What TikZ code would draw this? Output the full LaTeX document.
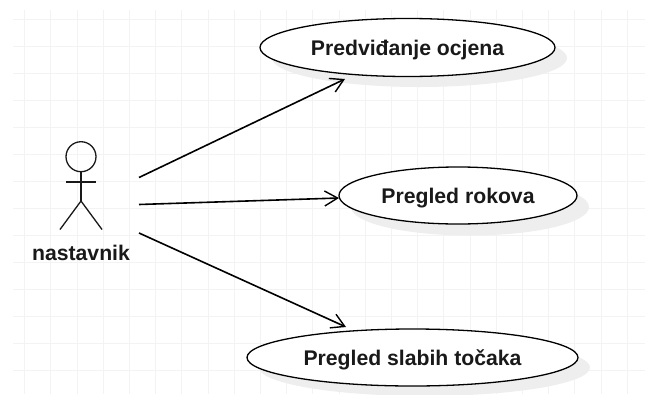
\documentclass[tikz,border=0pt]{standalone}
\usepackage{fontspec}
\setmainfont{Liberation Sans}
\usetikzlibrary{arrows.meta,shapes.geometric}
\definecolor{gridc}{HTML}{F3F3F3}
\definecolor{shadowc}{HTML}{EEEEEE}
\tikzset{
  gridline/.style={gridc,line width=0.8pt},
  labeltext/.style={font=\bfseries\fontsize{21.2}{24}\selectfont,text=black!90},
  usecase/.style={ellipse,draw=black,fill=white,line width=1.3pt,inner sep=0pt,labeltext,text height=18pt,text depth=2pt},
  shade blob/.style={fill=shadowc,draw=none},
  stick/.style={draw=black!90,line width=1.3pt},
  assoc/.style={draw=black,line width=1.6pt,-{Straight Barb[length=13pt,width=15pt,line width=1.4pt]}}
}
\begin{document}
\begin{tikzpicture}[x=1pt,y=-1pt]
\useasboundingbox (0,0) rectangle (645,394);
\fill[white] (0,0) rectangle (645,394);
\foreach \k in {0,...,23} \draw[gridline] ({24.5+26.2*\k},10) -- ({24.5+26.2*\k},394);
\foreach \k in {0,...,13} \draw[gridline] (13,{19+27*\k}) -- (645,{19+27*\k});
\fill[shade blob] (419.5,58) ellipse [x radius=147.5,y radius=29];
\fill[shade blob] (470,207) ellipse [x radius=119,y radius=28.5];
\fill[shade blob] (424.5,367.5) ellipse [x radius=165.5,y radius=28.5];
\node[usecase,minimum width=295pt,minimum height=58pt] (uc1) at (407.5,47.5) {Predviđanje ocjena};
\node[usecase,minimum width=238pt,minimum height=57pt] (uc2) at (458,195.5) {Pregled rokova};
\node[usecase,minimum width=331pt,minimum height=57pt] (uc3) at (412.5,357.5) {Pregled slabih točaka};
\coordinate (h) at (81,156.7);
\draw[stick] (h) circle [radius=15];
\coordinate (neck) at (81,171.7);
\coordinate (hip) at (81,201);
\coordinate (armL) at (66,182);
\coordinate (armR) at (96,182);
\coordinate (legL) at (60,229.5);
\coordinate (legR) at (102,229.5);
\draw[stick] (neck) -- (hip);
\draw[stick] (armL) -- (armR);
\draw[stick] (legL) -- (hip) -- (legR);
\node[labeltext,inner sep=0pt] (actor) at (81,253) {nastavnik};
\coordinate (a1) at (139,177.5);
\coordinate (a2) at (139,204.5);
\coordinate (a3) at (139,233);
\coordinate (t1) at ([shift={(-62.5,31.5)}]uc1.center);
\coordinate (t2) at ([shift={(-119,2.5)}]uc2.center);
\coordinate (t3) at ([shift={(-66.5,-30.5)}]uc3.center);
\draw[assoc] (a1) -- (t1);
\draw[assoc] (a2) -- (t2);
\draw[assoc] (a3) -- (t3);
\end{tikzpicture}
\end{document}
